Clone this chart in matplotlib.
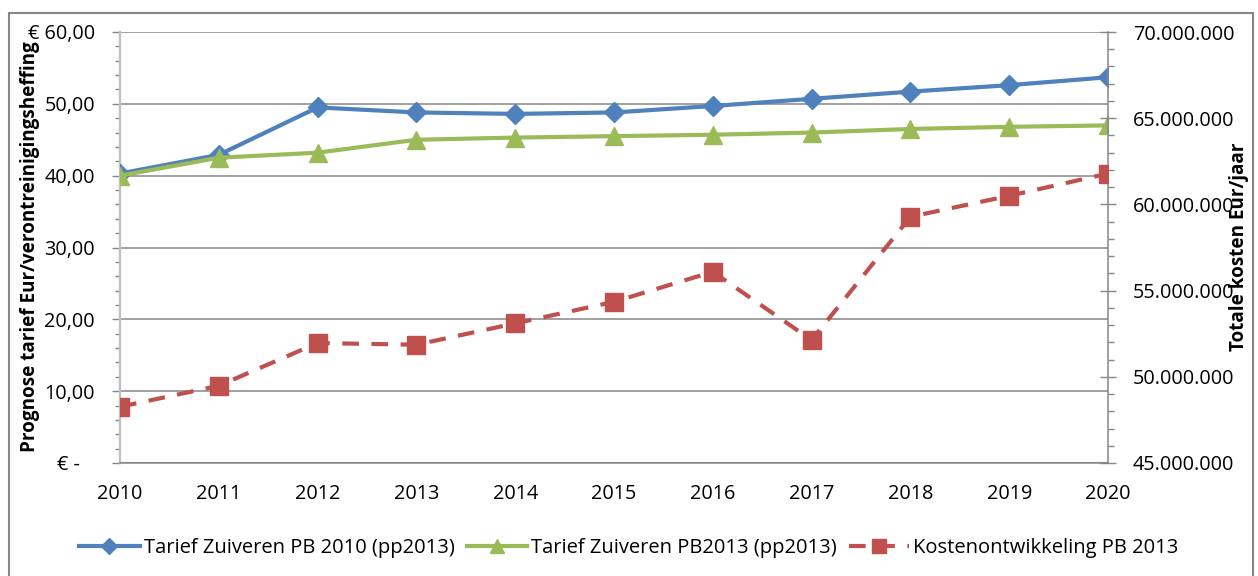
import matplotlib
matplotlib.use("Agg")
import matplotlib.pyplot as plt
from matplotlib.ticker import MultipleLocator, FuncFormatter
from matplotlib.patches import Rectangle

plt.rcParams['font.family'] = ['Open Sans', 'DejaVu Sans']

years = [2010, 2011, 2012, 2013, 2014, 2015, 2016, 2017, 2018, 2019, 2020]
tarief_pb2010 = [40.3, 42.9, 49.5, 48.8, 48.6, 48.8, 49.7, 50.7, 51.7, 52.6, 53.7]
tarief_pb2013 = [40.0, 42.5, 43.2, 45.0, 45.3, 45.5, 45.7, 46.0, 46.5, 46.8, 47.0]
kosten_pb2013 = [48.26e6, 49.48e6, 51.96e6, 51.86e6, 53.10e6, 54.35e6,
                 56.09e6, 52.13e6, 59.28e6, 60.50e6, 61.79e6]

labels = ["Tarief Zuiveren PB 2010 (pp2013)",
          "Tarief Zuiveren PB2013 (pp2013)",
          "Kostenontwikkeling PB 2013"]

blue = '#4F81BD'
green = '#9BBB59'
red = '#C0504D'
grey = '#868686'

W, H = 1258, 576
fig = plt.figure(figsize=(W / 100, H / 100), dpi=100, facecolor='white')
fig.patches.append(Rectangle((9 / W, -0.05), (1253 - 9) / W, 1 - 13 / H + 0.05,
                             transform=fig.transFigure, fill=False,
                             edgecolor=grey, lw=1.5))

ax = fig.add_axes([120 / W, 1 - 463 / H, (1108 - 120) / W, (463 - 32) / H])
ax2 = ax.twinx()

ax.plot(years, tarief_pb2010, color=blue, lw=3, marker='D', ms=10,
        label=labels[0], zorder=3)
ax.plot(years, tarief_pb2013, color=green, lw=3, marker='^', ms=13,
        label=labels[1], zorder=4)
ax2.plot(years, kosten_pb2013, color=red, lw=3, ls=(0, (4, 3)), marker='s',
         ms=13, label=labels[2], zorder=5)

ax.set_xlim(2010, 2020)
ax.set_ylim(0, 60)
ax2.set_ylim(45e6, 70e6)
ax.set_xticks(years)
ax.yaxis.set_major_locator(MultipleLocator(10))
ax.yaxis.set_minor_locator(MultipleLocator(2))
ax2.yaxis.set_major_locator(MultipleLocator(5e6))
ax2.yaxis.set_minor_locator(MultipleLocator(1e6))


def left_fmt(v, pos):
    if v == 0:
        return '€ -   '
    s = f'{v:.2f}'.replace('.', ',')
    if v == 60:
        return '€ ' + s
    return s


ax.yaxis.set_major_formatter(FuncFormatter(left_fmt))
ax2.yaxis.set_major_formatter(FuncFormatter(lambda v, p: f'{int(v):,}'.replace(',', '.')))

ax.grid(axis='y', color=grey, lw=1.1)
ax.get_ygridlines()[1].set_linewidth(2.2)
ax.set_axisbelow(True)

for s in ['top', 'right']:
    ax.spines[s].set_visible(False)
ax.spines['left'].set_color('#BFBFBF')
ax.spines['left'].set_linewidth(1.6)
ax.spines['bottom'].set_color(grey)
ax.spines['bottom'].set_linewidth(1.1)
for s in ['top', 'left', 'bottom']:
    ax2.spines[s].set_visible(False)
ax2.spines['right'].set_color(grey)
ax2.spines['right'].set_linewidth(1.1)

ax.tick_params(axis='x', length=0, pad=15, labelsize=14.3, colors='black')
ax.tick_params(axis='y', which='major', direction='out', length=6, width=1,
               color=grey, pad=12, labelsize=14.3)
ax.tick_params(axis='y', which='minor', direction='out', length=3.5, width=1,
               color=grey)
ax2.tick_params(axis='y', which='major', direction='inout', length=12, width=1,
                color=grey, pad=12, labelsize=14.3)
ax2.tick_params(axis='y', which='minor', direction='out', length=4.5, width=1,
                color=grey)

fig.text(30 / W, 1 - 247 / H, 'Prognose tarief Eur/verontreinigingsheffing',
         rotation=90, ha='center', va='center', fontsize=13.6,
         fontweight='bold', zorder=10)
fig.text(1239 / W, 1 - 247 / H, 'Totale kosten Eur/jaar', rotation=90,
         ha='center', va='center', fontsize=13.6, fontweight='bold', zorder=10)

h1, l1 = ax.get_legend_handles_labels()
h2, l2 = ax2.get_legend_handles_labels()
fig.legend(h1 + h2, l1 + l2, loc='center', bbox_to_anchor=(0.5, 1 - 548 / H),
           ncol=3, frameon=False, fontsize=14.5, handlelength=3.0,
           handletextpad=0.2, columnspacing=0.6, markerscale=0.8)

fig.savefig('out.png', dpi=100, facecolor='white')
